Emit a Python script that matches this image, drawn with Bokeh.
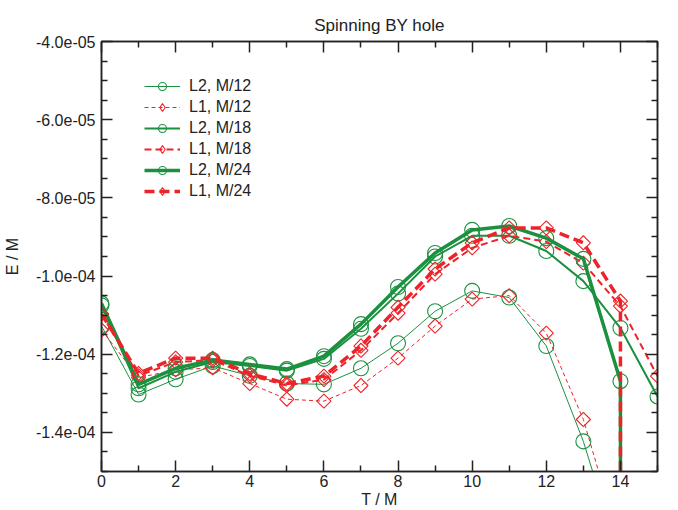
import numpy as np
from bokeh.plotting import figure
from bokeh.models import (LinearAxis, FixedTicker, CustomJSTickFormatter,
                          Legend, LegendItem, ColumnDataSource, CDSView, IndexFilter)
from bokeh.embed import file_html
from bokeh.resources import INLINE

# ---------------- data ----------------
T_M12 = [0, 1, 2, 3, 4, 5, 6, 7, 8, 9, 10, 11, 12, 13, 14]
L2_M12 = [-11.28e-5, -13.03e-5, -12.64e-5, -12.30e-5, -12.55e-5, -12.75e-5, -12.77e-5,
          -12.36e-5, -11.72e-5, -10.90e-5, -10.38e-5, -10.55e-5, -11.79e-5, -14.23e-5, -17.3e-5]
L1_M12 = [-11.38e-5, -12.60e-5, -12.40e-5, -12.35e-5, -12.75e-5, -13.15e-5, -13.20e-5,
          -12.80e-5, -12.10e-5, -11.28e-5, -10.59e-5, -10.50e-5, -11.46e-5, -13.67e-5, -16.9e-5]

T_M18 = [0, 1, 2, 3, 4, 5, 6, 7, 8, 9, 10, 11, 12, 13, 14, 15]
L2_M18 = [-10.75e-5, -12.87e-5, -12.45e-5, -12.20e-5, -12.30e-5, -12.42e-5, -12.12e-5,
          -11.35e-5, -10.45e-5, -9.50e-5, -8.97e-5, -8.97e-5, -9.36e-5, -10.13e-5,
          -11.33e-5, -13.08e-5]
L1_M18 = [-10.97e-5, -12.55e-5, -12.20e-5, -12.15e-5, -12.55e-5, -12.80e-5, -12.65e-5,
          -11.90e-5, -10.95e-5, -9.95e-5, -9.28e-5, -8.97e-5, -9.12e-5, -9.67e-5,
          -10.77e-5, -12.56e-5]

T_L2_M24 = [0, 1, 2, 3, 4, 5, 6, 7, 8, 9, 10, 11, 12, 13, 14, 14.04]
L2_M24 = [-10.70e-5, -12.77e-5, -12.36e-5, -12.15e-5, -12.26e-5, -12.38e-5, -12.05e-5,
          -11.23e-5, -10.28e-5, -9.41e-5, -8.82e-5, -8.72e-5, -9.03e-5, -9.56e-5,
          -12.69e-5, -1.0e-3]
T_L1_M24 = [0, 1, 2, 3, 4, 5, 6, 7, 8, 9, 10, 11, 12, 13, 14, 14.01]
L1_M24 = [-10.97e-5, -12.49e-5, -12.10e-5, -12.10e-5, -12.50e-5, -12.75e-5, -12.56e-5,
          -11.79e-5, -10.80e-5, -9.82e-5, -9.15e-5, -8.77e-5, -8.77e-5, -9.15e-5,
          -10.64e-5, -1.0e-3]

X_MAJOR = [0, 2, 4, 6, 8, 10, 12, 14]
X_MINOR = [1, 3, 5, 7, 9, 11, 13, 15]
Y_MAJOR = [-1.4e-4, -1.2e-4, -1.0e-4, -8.0e-5, -6.0e-5, -4.0e-5]
Y_MINOR = [-1.5e-4, -1.45e-4, -1.35e-4, -1.3e-4, -1.25e-4, -1.15e-4, -1.1e-4, -1.05e-4,
           -9.5e-5, -9.0e-5, -8.5e-5, -7.5e-5, -7.0e-5, -6.5e-5, -5.5e-5, -5.0e-5, -4.5e-5]

TITLE = "Spinning BY hole"
XLABEL = "T / M"
YLABEL = "E / M"

GREEN = "#1b9140"
RED = "#ee2329"
FONT = "Liberation Sans"
TXT = "#222222"

# ---------------- figure ----------------
p = figure(width=678, height=510, x_range=(0, 15), y_range=(-1.5e-4, -4e-5),
           output_backend="svg", toolbar_location=None,
           min_border_left=101, min_border_right=21, min_border_top=41,
           min_border_bottom=39, background_fill_color="white",
           border_fill_color="white")
p.xgrid.visible = False
p.ygrid.visible = False
p.outline_line_color = "#222222"
p.outline_line_width = 1.5

p.title.text = TITLE
p.title.align = "center"
p.title.text_font = FONT
p.title.text_font_size = "17px"
p.title.text_font_style = "normal"
p.title.text_color = TXT
p.title.standoff = 14

yfmt = CustomJSTickFormatter(code="""
const s = tick.toExponential(1);
return s.replace(/e([+-])(\\d)$/, (m, a, b) => 'e' + a + '0' + b);
""")
blank = CustomJSTickFormatter(code="return '';")


def style_axis(ax, major, minor, fmt):
    ax.ticker = FixedTicker(ticks=major, minor_ticks=minor)
    ax.formatter = fmt
    ax.axis_line_color = "#222222"
    ax.axis_line_width = 1.5
    ax.major_tick_line_color = "#222222"
    ax.minor_tick_line_color = "#222222"
    ax.major_tick_line_width = 1.5
    ax.minor_tick_line_width = 1.5
    ax.major_tick_in = 11
    ax.major_tick_out = 0
    ax.minor_tick_in = 6
    ax.minor_tick_out = 0
    ax.major_label_text_font = FONT
    ax.major_label_text_font_size = "16px"
    ax.major_label_text_color = TXT
    ax.axis_label_text_font = FONT
    ax.axis_label_text_font_size = "16px"
    ax.axis_label_text_font_style = "normal"
    ax.axis_label_text_color = TXT


style_axis(p.xaxis[0], X_MAJOR, X_MINOR, CustomJSTickFormatter(code="return tick.toFixed(0);"))
style_axis(p.yaxis[0], Y_MAJOR, Y_MINOR, yfmt)
p.xaxis[0].axis_label = XLABEL
p.yaxis[0].axis_label = YLABEL
p.xaxis[0].major_label_standoff = 3
p.xaxis[0].axis_label_standoff = 1
p.yaxis[0].major_label_standoff = 6
p.yaxis[0].axis_label_standoff = 12

top = LinearAxis()
style_axis(top, X_MAJOR, X_MINOR, blank)
top.major_label_standoff = 0
top.axis_label_standoff = 0
top.major_label_text_font_size = "0px"
p.add_layout(top, "above")
right = LinearAxis()
style_axis(right, Y_MAJOR, Y_MINOR, blank)
right.major_label_standoff = 0
right.axis_label_standoff = 0
right.major_label_text_font_size = "0px"
p.add_layout(right, "right")

# ---------------- series ----------------
series = [
    ("L2, M/12", T_M12, L2_M12, GREEN, 1.0, "solid", "circle"),
    ("L1, M/12", T_M12, L1_M12, RED, 1.0, "4 3", "diamond"),
    ("L2, M/18", T_M18, L2_M18, GREEN, 2.0, "solid", "circle"),
    ("L1, M/18", T_M18, L1_M18, RED, 2.0, "7 4", "diamond"),
    ("L2, M/24", T_L2_M24, L2_M24, GREEN, 3.5, "solid", "circle"),
    ("L1, M/24", T_L1_M24, L1_M24, RED, 3.5, "10 5", "diamond"),
]

items = []
for label, xs, ys, col, lw, dash, mk in series:
    src = ColumnDataSource(dict(x=xs, y=ys))
    ln = p.line("x", "y", source=src, line_color=col, line_width=lw, line_dash=dash)
    if mk == "circle":
        sc = p.scatter("x", "y", source=src, marker="circle", size=15,
                       line_color=col, fill_color=None, line_width=1.1)
        items.append(LegendItem(label=label, renderers=[ln, sc]))
    else:
        p.scatter("x", "y", source=src, marker="square", size=10,
                  angle=np.pi / 4, line_color=col, fill_color=None, line_width=1.1)
        # legend key: diamond marker of size 0 in the plot (invisible there)
        key = p.scatter("x", "y", source=src, view=CDSView(filter=IndexFilter([0])),
                        marker="diamond", size=0, line_color=col, fill_color=None,
                        line_width=1.1)
        items.append(LegendItem(label=label, renderers=[ln, key]))

legend = Legend(items=items, location=(43, 270), padding=0, margin=0,
                spacing=1, glyph_width=36, glyph_height=20, label_height=20,
                label_standoff=9, label_text_font=FONT, label_text_font_size="16px",
                label_text_color=TXT, background_fill_alpha=0, border_line_alpha=0)
p.add_layout(legend)

open("out.html", "w").write(file_html(p, INLINE))
